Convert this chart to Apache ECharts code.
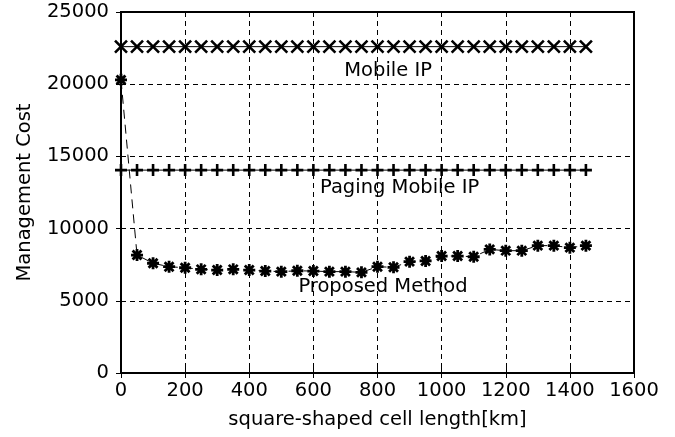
<!DOCTYPE html>
<html>
<head>
<meta charset="utf-8">
<script src="https://cdn.jsdelivr.net/npm/echarts@6/dist/echarts.min.js"></script>
<style>html,body{margin:0;padding:0;background:#fff}#c{width:675px;height:437px}</style>
</head>
<body>
<div id="c"></div>
<script>
var cellLength = [0,50,100,150,200,250,300,350,400,450,500,550,600,650,700,750,800,850,900,950,1000,1050,1100,1150,1200,1250,1300,1350,1400,1450];
var mobileIP = [22600,22600,22600,22600,22600,22600,22600,22600,22600,22600,22600,22600,22600,22600,22600,22600,22600,22600,22600,22600,22600,22600,22600,22600,22600,22600,22600,22600,22600,22600];
var pagingMobileIP = [14050,14050,14050,14050,14050,14050,14050,14050,14050,14050,14050,14050,14050,14050,14050,14050,14050,14050,14050,14050,14050,14050,14050,14050,14050,14050,14050,14050,14050,14050];
var proposed = [20300,8170,7600,7360,7290,7180,7130,7180,7130,7060,7020,7080,7060,7020,7020,6970,7360,7320,7710,7760,8100,8100,8050,8560,8470,8470,8820,8820,8680,8820];
var seriesNames = ['Mobile IP','Paging Mobile IP','Proposed Method'];
var labelX = [833, 869, 817];
var labelY = [20950, 12800, 5930];
var xTicks = {min:0, max:1600, interval:200};
var yTicks = {min:0, max:25000, interval:5000};

var FONT = 'DejaVu Sans';
var FS = 19.5;
function pairs(ys){ return cellLength.map(function(x,i){return [x, ys[i]];}); }
function mark(i){
  return {
    silent:true,
    symbol:'circle', symbolSize:0,
    label:{show:true, position:'inside', color:'#000', fontFamily:FONT, fontSize:FS, formatter:seriesNames[i]},
    data:[{coord:[labelX[i], labelY[i]]}]
  };
}
function plain(v){ return String(v); }
var crossSym = 'path://M0,0L10,10M10,0L0,10';
var plusSym = 'path://M5,0L5,10M0,5L10,5';
var starSym = 'path://M5,0L5,10M0,5L10,5M1.3,1.3L8.7,8.7M8.7,1.3L1.3,8.7';

var chart = echarts.init(document.getElementById('c'), null, {renderer:'canvas'});
var gridLine = {show:true, lineStyle:{color:'#000', width:1, type:[5,4]}};
chart.setOption({
  animation:false,
  backgroundColor:'#fff',
  grid:{left:121, right:41, top:12, bottom:64, show:true, borderColor:'#000', borderWidth:2, backgroundColor:'transparent'},
  xAxis:[{
    type:'value', min:xTicks.min, max:xTicks.max, interval:xTicks.interval,
    name:'square-shaped cell length[km]', nameLocation:'middle', nameGap:37,
    nameTextStyle:{color:'#000', fontFamily:FONT, fontSize:FS},
    axisLine:{show:true, onZero:false, lineStyle:{color:'#000', width:2}},
    axisTick:{show:true, inside:true, length:5, lineStyle:{color:'#000', width:1}},
    axisLabel:{color:'#000', fontFamily:FONT, fontSize:FS, margin:8, formatter:plain},
    splitLine:gridLine
  },{
    type:'value', position:'top', min:xTicks.min, max:xTicks.max, interval:xTicks.interval,
    axisLine:{show:true, lineStyle:{color:'#000', width:2}},
    axisTick:{show:true, inside:true, length:5, lineStyle:{color:'#000'}},
    axisLabel:{show:false}, splitLine:{show:false}
  }],
  yAxis:[{
    type:'value', min:yTicks.min, max:yTicks.max, interval:yTicks.interval,
    name:'Management Cost', nameLocation:'middle', nameGap:86,
    nameTextStyle:{color:'#000', fontFamily:FONT, fontSize:FS},
    axisLine:{show:true, onZero:false, lineStyle:{color:'#000', width:2}},
    axisTick:{show:true, inside:true, length:5, lineStyle:{color:'#000', width:1}},
    axisLabel:{color:'#000', fontFamily:FONT, fontSize:FS, margin:12, formatter:plain},
    splitLine:gridLine
  },{
    type:'value', position:'right', min:yTicks.min, max:yTicks.max, interval:yTicks.interval,
    axisLine:{show:true, lineStyle:{color:'#000', width:2}},
    axisTick:{show:true, inside:true, length:5, lineStyle:{color:'#000'}},
    axisLabel:{show:false}, splitLine:{show:false}
  }],
  series:[{
    name:seriesNames[0], type:'line', data:pairs(mobileIP),
    symbol:crossSym, symbolSize:12, showAllSymbol:true,
    lineStyle:{color:'#000', width:1},
    itemStyle:{color:'#000', borderColor:'#000', borderWidth:2.6},
    markPoint:mark(0)
  },{
    name:seriesNames[1], type:'line', data:pairs(pagingMobileIP),
    symbol:plusSym, symbolSize:12, showAllSymbol:true,
    lineStyle:{color:'#000', width:1},
    itemStyle:{color:'#000', borderColor:'#000', borderWidth:2.6},
    markPoint:mark(1)
  },{
    name:seriesNames[2], type:'line', data:pairs(proposed),
    symbol:starSym, symbolSize:12, showAllSymbol:true,
    lineStyle:{color:'#000', width:1, type:[9,6]},
    itemStyle:{color:'#000', borderColor:'#000', borderWidth:2.8},
    markPoint:mark(2)
  }]
});
</script>
</body>
</html>
